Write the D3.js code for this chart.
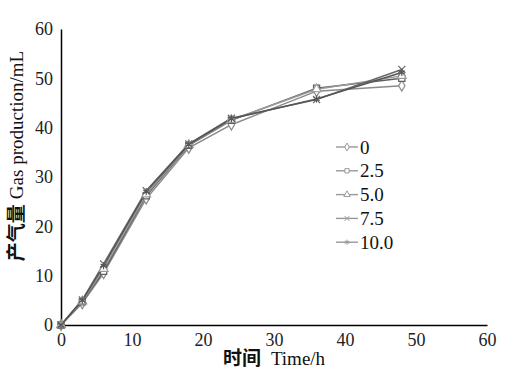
<!DOCTYPE html>
<html>
<head>
<meta charset="utf-8">
<script src="https://cdn.jsdelivr.net/npm/d3@7"></script>
<style>
  body { margin: 0; background: #fff; }
  text { font-family: "Liberation Serif", "DejaVu Serif", serif; }
</style>
</head>
<body>
<script>
var times = [0, 3, 6, 12, 18, 24, 36, 48];
var seriesNames = ['0', '2.5', '5.0', '7.5', '10.0'];
var s0 = [0, 4.4, 10.5, 25.6, 35.9, 40.6, 47.4, 48.5];
var s25 = [0, 4.7, 10.9, 26.2, 36.4, 41.5, 48.0, 50.0];
var s50 = [0, 4.8, 11.4, 26.5, 36.5, 41.6, 47.8, 50.5];
var s75 = [0, 5.1, 12.4, 27.2, 36.7, 41.9, 45.7, 51.8];
var s100 = [0, 5.0, 12.0, 27.0, 36.6, 41.8, 45.8, 51.2];
var xTicks = [0, 10, 20, 30, 40, 50, 60];
var yTicks = [0, 10, 20, 30, 40, 50, 60];

var allSeries = [s0, s25, s50, s75, s100];
var colors = ['#8a8a8a', '#5e5e5e', '#9a9a9a', '#6a6a6a', '#555'];
var shapes = [d3.symbolDiamond, d3.symbolSquare, d3.symbolTriangle, d3.symbolX, d3.symbolAsterisk];

var w = 517, h = 379;
var svg = d3.select('body').append('svg').attr('width', w).attr('height', h);

var x = d3.scaleLinear().domain([0, 60]).range([61, 487]);
var y = d3.scaleLinear().domain([0, 60]).range([325, 29]);

var xAxis = svg.append('g')
  .attr('transform', 'translate(0,325)')
  .call(d3.axisBottom(x).tickValues(xTicks).tickSize(0).tickPadding(8));
var yAxis = svg.append('g')
  .attr('transform', 'translate(61,0)')
  .call(d3.axisLeft(y).tickValues(yTicks).tickSize(0).tickPadding(8));

[xAxis, yAxis].forEach(function (g) {
  g.select('.domain').attr('stroke', '#000').attr('stroke-width', 1.5);
  g.selectAll('text').style('font-family', '"Liberation Serif", serif').style('font-size', '18px').attr('fill', '#222');
});

var line = d3.line()
  .x(function (d, i) { return x(times[i]); })
  .y(function (d) { return y(d); });

allSeries.forEach(function (s, k) {
  svg.append('path')
    .datum(s)
    .attr('fill', 'none')
    .attr('stroke', colors[k])
    .attr('stroke-width', 1.5)
    .attr('d', line);
});

allSeries.forEach(function (s, k) {
  var sym = d3.symbol().type(shapes[k]).size(k === 1 ? 38 : 34);
  svg.selectAll('.m' + k)
    .data(s)
    .enter()
    .append('path')
    .attr('transform', function (d, i) { return 'translate(' + x(times[i]) + ',' + y(d) + ')'; })
    .attr('d', sym)
    .attr('fill', k >= 3 ? 'none' : '#fff')
    .attr('stroke', colors[k])
    .attr('stroke-width', 1.2);
});

// legend
var legend = svg.append('g');
seriesNames.forEach(function (name, k) {
  var ly = 147 + k * 23.8;
  legend.append('line')
    .attr('x1', 336).attr('x2', 358).attr('y1', ly).attr('y2', ly)
    .attr('stroke', '#999').attr('stroke-width', 1.4);
  legend.append('path')
    .attr('transform', 'translate(347,' + ly + ')')
    .attr('d', d3.symbol().type(shapes[k]).size(18))
    .attr('fill', k >= 3 ? 'none' : '#fff')
    .attr('stroke', '#999').attr('stroke-width', 1);
  legend.append('text')
    .attr('x', 360).attr('y', ly + 6.5)
    .style('font-size', '19px').attr('fill', '#111')
    .text(name);
});

// axis titles
svg.append('text')
  .attr('x', 274).attr('y', 365)
  .attr('text-anchor', 'middle')
  .style('font-size', '19px').attr('fill', '#111')
  .html('<tspan style="font-family:\'Noto Sans CJK SC\';font-weight:bold">时间</tspan><tspan dx="10">Time/h</tspan>');

svg.append('text')
  .attr('transform', 'translate(23,156) rotate(-90)')
  .attr('text-anchor', 'middle')
  .style('font-size', '19px').attr('fill', '#111')
  .html('<tspan style="font-family:\'Noto Sans CJK SC\';font-weight:bold">产气量</tspan><tspan dx="5">Gas production/mL</tspan>');
</script>
</body>
</html>
